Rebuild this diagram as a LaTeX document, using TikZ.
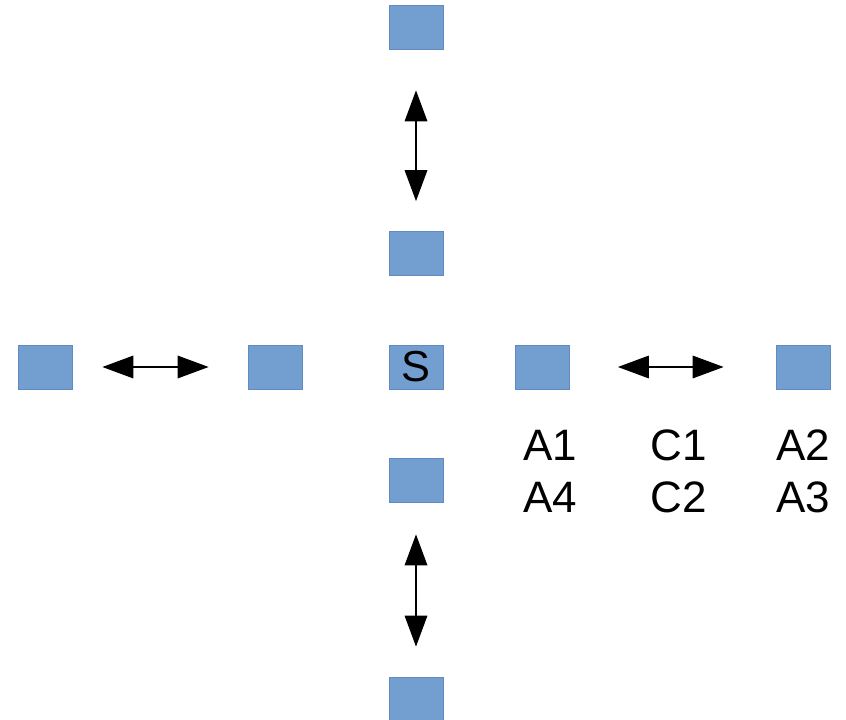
\documentclass[tikz,border=0pt]{standalone}
\usepackage{fontspec}
\setmainfont{Liberation Sans}
\usetikzlibrary{arrows.meta}
\definecolor{boxfill}{RGB}{114,159,207}
\definecolor{boxline}{RGB}{96,138,192}
\begin{document}
\begin{tikzpicture}[x=0.75pt,y=-0.75pt,
  sq/.style={draw=boxline,line width=0.6pt,fill=boxfill,minimum width=40.5pt,minimum height=33pt,inner sep=0pt,font=\fontsize{32.5}{38}\selectfont},
  dbl/.style={draw=black,line width=0.9pt,{Triangle[length=23.25pt,width=17pt]}-{Triangle[length=23.25pt,width=17pt]}},
  lbl/.style={anchor=base west,inner sep=0pt,font=\fontsize{33}{38}\selectfont}]
\path[use as bounding box] (0,0) rectangle (846,720);
\node[sq] (top) at (416,27) {};
\node[sq] (um) at (416,253.5) {};
\node[sq] (s) at (416,367) {S};
\node[sq] (lm) at (416,480) {};
\node[sq] (bot) at (416,699) {};
\node[sq] (lf) at (45,367) {};
\node[sq] (ln) at (275,367) {};
\node[sq] (rn) at (542.5,367) {};
\node[sq] (rf) at (803,367) {};
\draw[dbl,shorten <=30.75pt,shorten >=22.5pt] (top) -- (um);
\draw[dbl,shorten <=24pt,shorten >=22.5pt] (lm) -- (bot);
\draw[dbl,shorten <=22.5pt,shorten >=29.25pt] (lf) -- (ln);
\draw[dbl,shorten <=36pt,shorten >=39pt] (rn) -- (rf);
\node[lbl] (a1) at (523,460) {A1};
\node[lbl] (a4) at (523,512) {A4};
\node[lbl] (c1) at (650,460) {C1};
\node[lbl] (c2) at (650,512) {C2};
\node[lbl] (a2) at (776,460) {A2};
\node[lbl] (a3) at (776,512) {A3};
\end{tikzpicture}
\end{document}
